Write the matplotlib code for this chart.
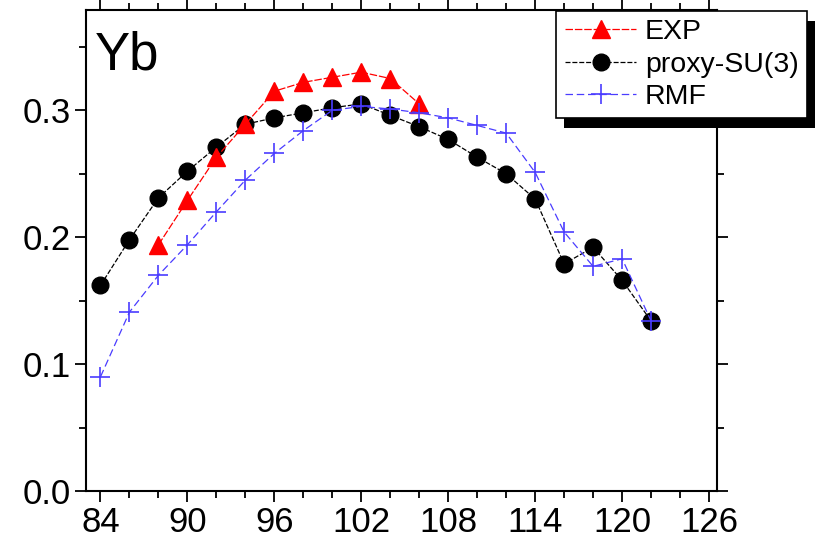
import numpy as np
import matplotlib
matplotlib.use("Agg")
import matplotlib.pyplot as plt
import matplotlib.patheffects as pe
from matplotlib.ticker import MultipleLocator

plt.rcParams['font.family'] = ['Liberation Sans', 'DejaVu Sans']

# neutron number N and deformation values for Yb
n_exp = [88, 90, 92, 94, 96, 98, 100, 102, 104, 106]
beta_exp = [0.194, 0.229, 0.263, 0.289, 0.315, 0.322, 0.326, 0.330, 0.325, 0.305]

n_su3 = [84, 86, 88, 90, 92, 94, 96, 98, 100, 102, 104, 106, 108, 110, 112, 114, 116, 118, 120, 122]
beta_su3 = [0.162, 0.198, 0.231, 0.252, 0.271, 0.289, 0.294, 0.298, 0.302, 0.305, 0.296, 0.287,
            0.277, 0.263, 0.250, 0.230, 0.179, 0.192, 0.166, 0.134]

n_rmf = [84, 86, 88, 90, 92, 94, 96, 98, 100, 102, 104, 106, 108, 110, 112, 114, 116, 118, 120, 122]
beta_rmf = [0.090, 0.141, 0.170, 0.194, 0.220, 0.245, 0.266, 0.284, 0.300, 0.303, 0.301, 0.298,
            0.294, 0.288, 0.282, 0.251, 0.204, 0.177, 0.183, 0.134]

fig = plt.figure(figsize=(8.16, 5.4), dpi=100)
ax = fig.add_axes([0.1054, 0.0907, 0.7733, 0.8908])

ax.plot(n_su3, beta_su3, color='black', lw=0.9, dashes=(4, 1.5), marker='o', ms=12,
        mfc='black', mec='black', label='proxy-SU(3)', zorder=2)
ax.plot(n_exp, beta_exp, color='red', lw=0.9, dashes=(6, 1.5), marker='^', ms=13,
        mfc='red', mec='red', label='EXP', zorder=3)
ax.plot(n_rmf, beta_rmf, color='#4a3cff', lw=0.9, dashes=(6, 3), marker='+', ms=14,
        mew=1.2, label='RMF', zorder=4)

ax.set_xlim(83, 126.55)
ax.set_ylim(0, 0.379)
ax.xaxis.set_major_locator(MultipleLocator(6))
ax.xaxis.set_minor_locator(MultipleLocator(2))
ax.yaxis.set_major_locator(MultipleLocator(0.1))
ax.yaxis.set_minor_locator(MultipleLocator(0.05))
ax.yaxis.set_major_formatter(matplotlib.ticker.FormatStrFormatter('%.1f'))

ax.tick_params(which='both', direction='out', top=True, right=True, width=1.3, labelsize=25)
ax.tick_params(which='major', length=8, pad=3)
ax.tick_params(which='minor', length=5)
for s in ax.spines.values():
    s.set_linewidth(1.5)

ax.text(0.014, 0.958, 'Yb', transform=ax.transAxes, fontsize=38, va='top', ha='left')

# legend sits across the top-right corner, with a solid drop shadow
handles, labels = ax.get_legend_handles_labels()
order = [1, 0, 2]
leg = fig.legend([handles[i] for i in order], [labels[i] for i in order],
                 loc='upper right', bbox_to_anchor=(0.989, 0.98), fontsize=20.5,
                 frameon=True, fancybox=False, edgecolor='black', framealpha=1,
                 handlelength=2.5, labelspacing=0.22, borderpad=0.3, handletextpad=0.3,
                 borderaxespad=0)
leg.get_frame().set_linewidth(1.2)
leg.get_frame().set_path_effects([
    pe.SimplePatchShadow(offset=(5.5, -7), shadow_rgbFace='black', alpha=1.0),
    pe.Normal()])

fig.savefig('out.png', dpi=100)
